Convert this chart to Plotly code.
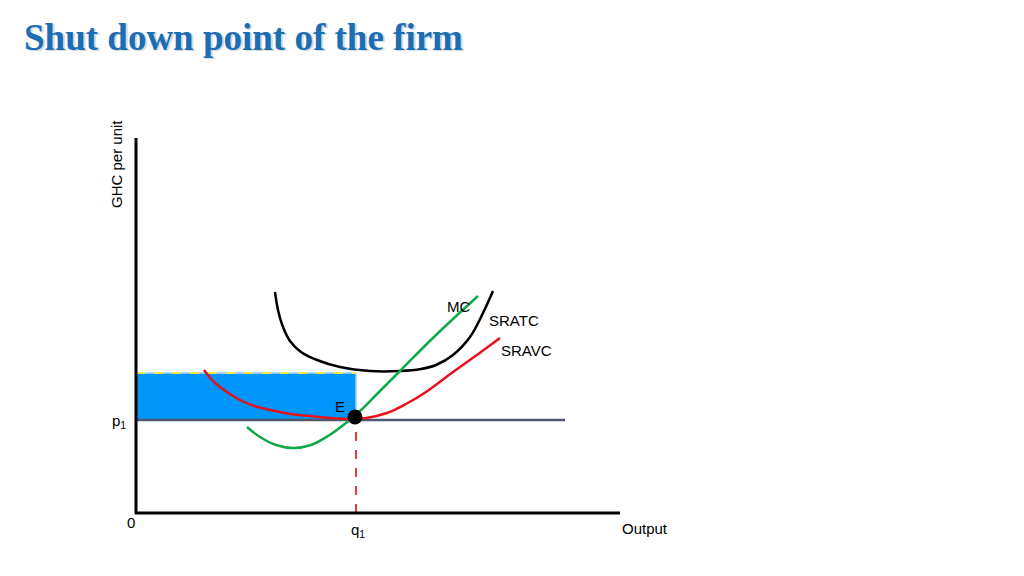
import plotly.graph_objects as go

# curve points, in chart units (0,0 = origin of the axes)
atc_x = [139, 142, 147, 154, 165, 181, 204, 234, 264, 285, 300, 317, 334, 347, 357]
atc_y = [221, 203, 186, 172, 161, 153, 146, 142, 142, 144, 148, 158, 176, 200, 222]

mc_x = [111, 124, 140, 157, 175, 192, 210, 225, 240, 264, 300, 342]
mc_y = [86, 76, 68, 65, 68, 77, 90, 103, 118, 142, 178, 217]

avc_x = [68, 76, 84, 94, 104, 118, 134, 154, 174, 194, 214, 230, 251, 270, 290, 317, 345, 364]
avc_y = [143, 133, 126, 119, 113, 107, 103, 99, 97, 95, 94, 95, 100, 109, 121, 141, 161, 175]

p1 = 93
q1 = 220
loss_top = 140
p1_line_end = 429
x_end = 484
y_end = 375

fig = go.Figure()

# shaded loss area between p1 and the top line
fig.add_trace(go.Scatter(x=[0, q1, q1, 0, 0], y=[p1, p1, loss_top, loss_top, p1],
                         fill="toself", fillcolor="#0095f8", mode="lines",
                         line=dict(color="#9fd3ff", width=1.5), hoverinfo="skip"))
fig.add_trace(go.Scatter(x=[0, q1], y=[loss_top, loss_top], mode="lines",
                         line=dict(color="#f2e94a", width=2, dash="dash")))

# price line and the dashed drop to q1
fig.add_trace(go.Scatter(x=[0, p1_line_end], y=[p1, p1], mode="lines",
                         line=dict(color="#4b5870", width=2.5)))
fig.add_trace(go.Scatter(x=[q1, q1], y=[0, p1], mode="lines",
                         line=dict(color="#e8262a", width=1.8, dash="dash")))

fig.add_trace(go.Scatter(x=atc_x, y=atc_y, mode="lines", line=dict(color="black", width=2.5, shape="spline")))
fig.add_trace(go.Scatter(x=mc_x, y=mc_y, mode="lines", line=dict(color="#10a84a", width=2.5, shape="spline")))
fig.add_trace(go.Scatter(x=avc_x, y=avc_y, mode="lines", line=dict(color="#e8101a", width=2.5, shape="spline")))

fig.add_trace(go.Scatter(x=[0, 0, x_end], y=[y_end, 0, 0], mode="lines",
                         line=dict(color="black", width=3)))
fig.add_trace(go.Scatter(x=[q1 - 1], y=[p1 + 3], mode="markers",
                         marker=dict(color="black", size=15)))

lbl = dict(family="Liberation Sans, Arial", size=15, color="black")
notes = [
    (322, 207, "MC"), (378, 193, "SRATC"), (390, 163, "SRAVC"),
    (204, 107, "E"), (-17, 92, "p<sub>1</sub>"), (-5, -9, "0"),
    (222, -17, "q<sub>1</sub>"), (509, -15, "Output"),
]
for x, y, t in notes:
    fig.add_annotation(x=x, y=y, text=t, showarrow=False, font=lbl)
fig.add_annotation(x=-20, y=349, text="GHC per unit", textangle=-90, showarrow=False, font=lbl)

# title with a soft grey shadow behind it
title = "<b>Shut down point of the firm</b>"
fig.add_annotation(x=0.0152, y=0.9465, xref="paper", yref="paper", xanchor="left", yanchor="middle",
                   text=title, showarrow=False,
                   font=dict(family="Liberation Serif, serif", size=37, color="#d6d9dc"))
fig.add_annotation(x=0.0137, y=0.949, xref="paper", yref="paper", xanchor="left", yanchor="middle",
                   text=title, showarrow=False,
                   font=dict(family="Liberation Serif, serif", size=37, color="#1b6db4"))

# ranges chosen so one unit is one pixel (page has an 8px body margin)
fig.update_xaxes(range=[-128, 896], visible=False)
fig.update_yaxes(range=[-71, 505], visible=False)
fig.update_layout(width=1024, height=576, margin=dict(l=0, r=0, t=0, b=0),
                  showlegend=False, plot_bgcolor="white", paper_bgcolor="white")
fig.write_html("out.html")
